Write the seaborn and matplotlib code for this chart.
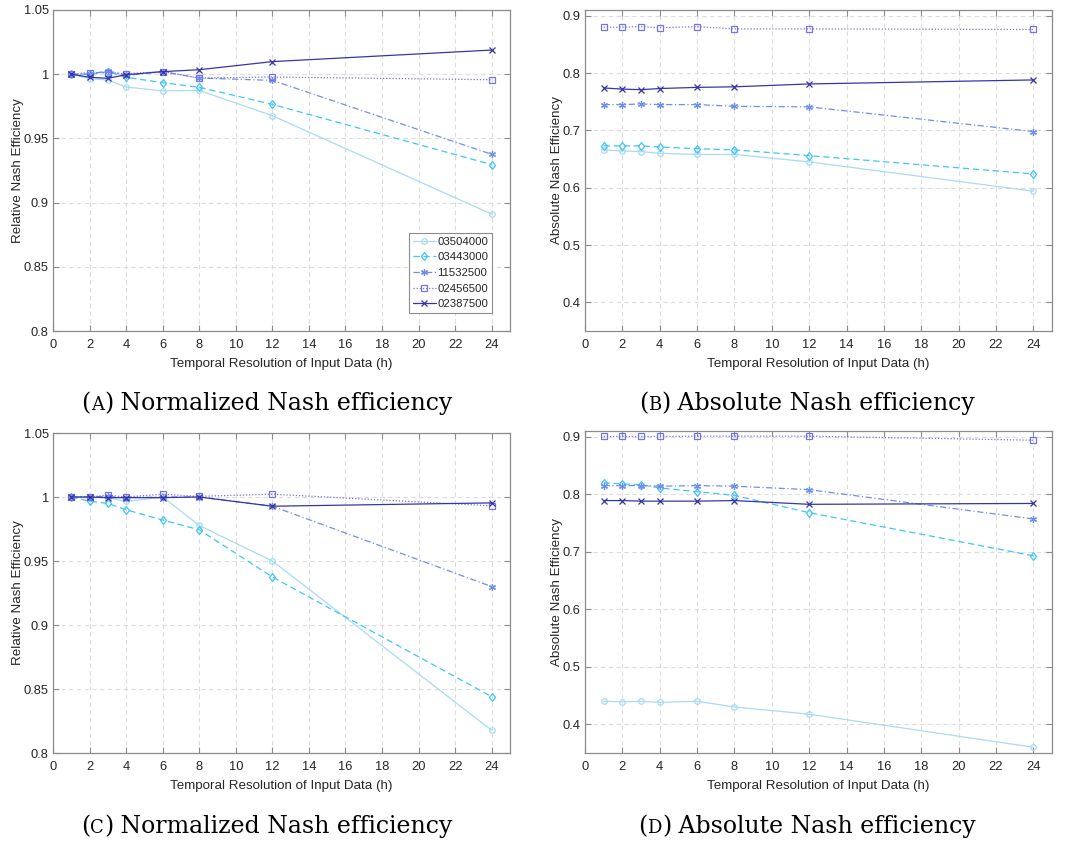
import numpy as np
import pandas as pd
import matplotlib
matplotlib.use("Agg")
import matplotlib.pyplot as plt
import seaborn as sns

# Temporal resolution of input data (hours)
hours = [1, 2, 3, 4, 6, 8, 12, 24]

gauges = ["03504000", "03443000", "11532500", "02456500", "02387500"]

# (A) relative Nash efficiency
rel_a = {
    "03504000": [1.000, 0.9965, 0.9955, 0.990, 0.987, 0.9874, 0.9677, 0.891],
    "03443000": [1.000, 1.000, 1.002, 0.9976, 0.9934, 0.9898, 0.9765, 0.9296],
    "11532500": [1.000, 1.000, 1.0027, 0.999, 1.002, 0.997, 0.9952, 0.9376],
    "02456500": [1.000, 1.0012, 1.0012, 1.0004, 1.002, 0.997, 0.9978, 0.9957],
    "02387500": [1.000, 0.9976, 0.9968, 0.9996, 1.002, 1.0035, 1.0098, 1.0188],
}
# (B) absolute Nash efficiency
abs_b = {
    "03504000": [0.666, 0.664, 0.663, 0.660, 0.658, 0.658, 0.645, 0.594],
    "03443000": [0.673, 0.673, 0.673, 0.671, 0.668, 0.666, 0.656, 0.624],
    "11532500": [0.745, 0.745, 0.746, 0.745, 0.745, 0.742, 0.741, 0.698],
    "02456500": [0.880, 0.880, 0.881, 0.879, 0.881, 0.877, 0.877, 0.876],
    "02387500": [0.774, 0.772, 0.771, 0.773, 0.775, 0.776, 0.781, 0.788],
}
# (C) relative Nash efficiency
rel_c = {
    "03504000": [1.000, 0.9995, 0.9995, 0.9965, 1.000, 0.9778, 0.950, 0.8177],
    "03443000": [1.000, 0.9967, 0.995, 0.990, 0.982, 0.9744, 0.9375, 0.844],
    "11532500": [1.000, 1.000, 1.0005, 0.9995, 1.000, 1.000, 0.9928, 0.930],
    "02456500": [1.000, 1.000, 1.0015, 1.000, 1.0022, 1.0005, 1.0022, 0.9931],
    "02387500": [1.000, 1.000, 0.9995, 0.9995, 0.9995, 1.000, 0.9928, 0.9954],
}
# (D) absolute Nash efficiency
abs_d = {
    "03504000": [0.440, 0.439, 0.440, 0.438, 0.440, 0.430, 0.4175, 0.360],
    "03443000": [0.820, 0.818, 0.8165, 0.811, 0.8044, 0.798, 0.768, 0.693],
    "11532500": [0.815, 0.815, 0.815, 0.814, 0.815, 0.814, 0.808, 0.757],
    "02456500": [0.9005, 0.9005, 0.9005, 0.9005, 0.901, 0.901, 0.901, 0.894],
    "02387500": [0.789, 0.789, 0.788, 0.788, 0.788, 0.789, 0.7825, 0.784],
}

colors = {
    "03504000": "#a9dbf2",
    "03443000": "#3fc6f7",
    "11532500": "#6f8ff0",
    "02456500": "#7474e4",
    "02387500": "#3535a8",
}
# open circle, open diamond, asterisk, open square, cross
markers = {"03504000": "o", "03443000": "d", "11532500": (6, 2, 0),
           "02456500": "s", "02387500": "x"}
marker_sizes = {"03504000": 4, "03443000": 4.5, "11532500": 5,
                "02456500": 3.8, "02387500": 4.2}
linestyles = {"03504000": "-", "03443000": (0, (5, 3)),
              "11532500": (0, (5, 2, 1, 2)), "02456500": (0, (1, 1.5)),
              "02387500": "-"}

sns.set_theme(style="white")
plt.rcParams["font.family"] = ["Liberation Sans", "DejaVu Sans"]

W, H = 1067, 843
fig = plt.figure(figsize=(W / 100, H / 100), dpi=100)


def frame(px_left, px_top, px_right, px_bottom):
    return [px_left / W, 1 - px_bottom / H, (px_right - px_left) / W,
            (px_bottom - px_top) / H]


panels = [
    (rel_a, frame(53, 10, 510, 331), (0.8, 1.05), np.arange(0.8, 1.051, 0.05),
     "Relative Nash Efficiency", True),
    (abs_b, frame(585, 10, 1052, 331), (0.35, 0.91), np.arange(0.4, 0.91, 0.1),
     "Absolute Nash Efficiency", False),
    (rel_c, frame(53, 433, 510, 753), (0.8, 1.05), np.arange(0.8, 1.051, 0.05),
     "Relative Nash Efficiency", False),
    (abs_d, frame(585, 431, 1052, 753), (0.35, 0.91), np.arange(0.4, 0.91, 0.1),
     "Absolute Nash Efficiency", False),
]


def fmt(v):
    return f"{v:.2f}".rstrip("0").rstrip(".")


for data, rect, ylim, yticks, ylabel, show_legend in panels:
    ax = fig.add_axes(rect)
    df = pd.DataFrame(
        [(h, g, v) for g in gauges for h, v in zip(hours, data[g])],
        columns=["hours", "gauge", "value"],
    )
    for g in gauges:
        sub = df[df["gauge"] == g]
        fill = "none" if markers[g] in ("o", "d", "s") else colors[g]
        sns.lineplot(data=sub, x="hours", y="value", color=colors[g],
                     marker=markers[g], linestyle=linestyles[g],
                     linewidth=0.9, markersize=marker_sizes[g],
                     markerfacecolor=fill, markeredgecolor=colors[g],
                     markeredgewidth=0.9, label=g, ax=ax, legend=False)
    ax.set_xlim(0, 25)
    ax.set_ylim(*ylim)
    ax.set_xticks(range(0, 25, 2))
    ax.set_yticks(yticks)
    ax.set_yticklabels([fmt(v) for v in yticks])
    ax.set_xlabel("Temporal Resolution of Input Data (h)", fontsize=9.6,
                  color="#262626", labelpad=5)
    ax.set_ylabel(ylabel, fontsize=9.6, color="#262626", labelpad=0)
    ax.grid(True, linestyle=(0, (4, 3)), color="#dcdcdc", linewidth=0.8)
    ax.set_axisbelow(True)
    for sp in ax.spines.values():
        sp.set_color("#8c8c8c")
        sp.set_linewidth(0.9)
    ax.tick_params(direction="in", length=4, width=0.8, color="#8c8c8c",
                   labelsize=9.3, labelcolor="#262626", top=True, right=True,
                   bottom=True, left=True, pad=3)
    ax.tick_params(axis="x", pad=5.5)
    if show_legend:
        leg = ax.legend(loc="lower right", fontsize=8.2, frameon=True,
                        fancybox=False, framealpha=1, edgecolor="#8c8c8c",
                        borderpad=0.3, labelspacing=0.5, handlelength=2.0,
                        handletextpad=0.15, borderaxespad=1.6)
        leg.get_frame().set_linewidth(0.8)

# Captions with small-caps panel letters
renderer = fig.canvas.get_renderer()
cap_font = dict(family=["DejaVu Serif"], color="black")
captions = [
    ("A", "Normalized Nash efficiency", 267, 403),
    ("B", "Absolute Nash efficiency", 807, 403),
    ("C", "Normalized Nash efficiency", 267, 826),
    ("D", "Absolute Nash efficiency", 807, 826),
]
big, small = 17, 13
for letter, words, cx, cy in captions:
    pieces = [("(", big), (letter, small), (")", big), (" " + words, big)]
    widths = []
    for txt, size in pieces:
        t = fig.text(0, 0, txt, fontsize=size, **cap_font)
        widths.append(t.get_window_extent(renderer).width)
        t.remove()
    x = cx - sum(widths) / 2
    for (txt, size), w in zip(pieces, widths):
        fig.text(x / W, 1 - (cy + 7) / H, txt, fontsize=size, ha="left",
                 va="baseline", **cap_font)
        x += w

fig.savefig("out.png", dpi=100)
